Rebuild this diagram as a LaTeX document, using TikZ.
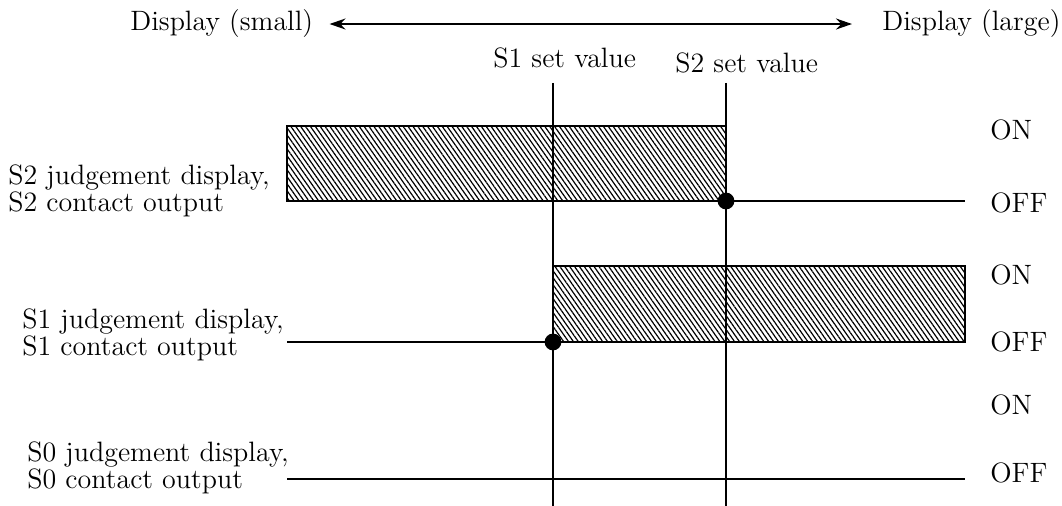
\documentclass[tikz,border=0pt]{standalone}
\usetikzlibrary{arrows.meta,patterns.meta}

\begin{document}
\begin{tikzpicture}[
  x=0.5pt, y=-0.5pt,
  font=\fontsize{14}{13.5}\selectfont,
  >={Stealth[length=8pt,width=5.5pt]},
  lbl/.style={anchor=base west, inner sep=0pt},
  rowlbl/.style={lbl, align=left},
  sig/.style={line width=1pt, draw=black},
  setline/.style={line width=1pt, draw=black},
  hatchbox/.style={
    line width=1.3pt, draw=black,
    pattern={Lines[angle=-55,distance=2pt,line width=0.6pt]}
  },
  dot/.style={fill=black},
]
\useasboundingbox (0,0) rectangle (1062,506);

% direction of the display value
\node[lbl] (small) at (130,31) {Display (small)};
\node[lbl] (large) at (882,31) {Display (large)};
\draw[<->, line width=1pt, shorten <=8pt, shorten >=15pt] (small.east) -- (large.west);

% set values
\node[lbl] (s1val) at (493,68) {S1 set value};
\node[lbl] (s2val) at (675,73) {S2 set value};
\coordinate (s1top) at (553,83);
\coordinate (s1bot) at (553,506);
\coordinate (s2top) at (726,83);
\coordinate (s2bot) at (726,506);
\draw[setline] (s1top) -- (s1bot);
\draw[setline] (s2top) -- (s2bot);

% rows (base = last line)
\node[rowlbl] (s2row) at (8,212)  {S2 judgement display,\\S2 contact output};
\node[rowlbl] (s1row) at (22,356) {S1 judgement display,\\S1 contact output};
\node[rowlbl] (s0row) at (27,489) {S0 judgement display,\\S0 contact output};

\node[lbl] (on2)  at (990,140) {ON};
\node[lbl] (off2) at (990,213) {OFF};
\node[lbl] (on1)  at (990,285) {ON};
\node[lbl] (off1) at (990,352) {OFF};
\node[lbl] (on0)  at (990,415) {ON};
\node[lbl] (off0) at (990,483) {OFF};

% S2: on below S2 set value
\draw[hatchbox] (287,126) rectangle (726,201);
\draw[sig] (726,201) -- (965,201);
\fill[dot] (726,201) circle (4.2pt);

% S1: on above S1 set value
\draw[sig] (287,342) -- (553,342);
\draw[hatchbox] (553,266) rectangle (965,342);
\fill[dot] (553,342) circle (4.2pt);

% S0: always off
\draw[sig] (287,479) -- (965,479);

\end{tikzpicture}
\end{document}
